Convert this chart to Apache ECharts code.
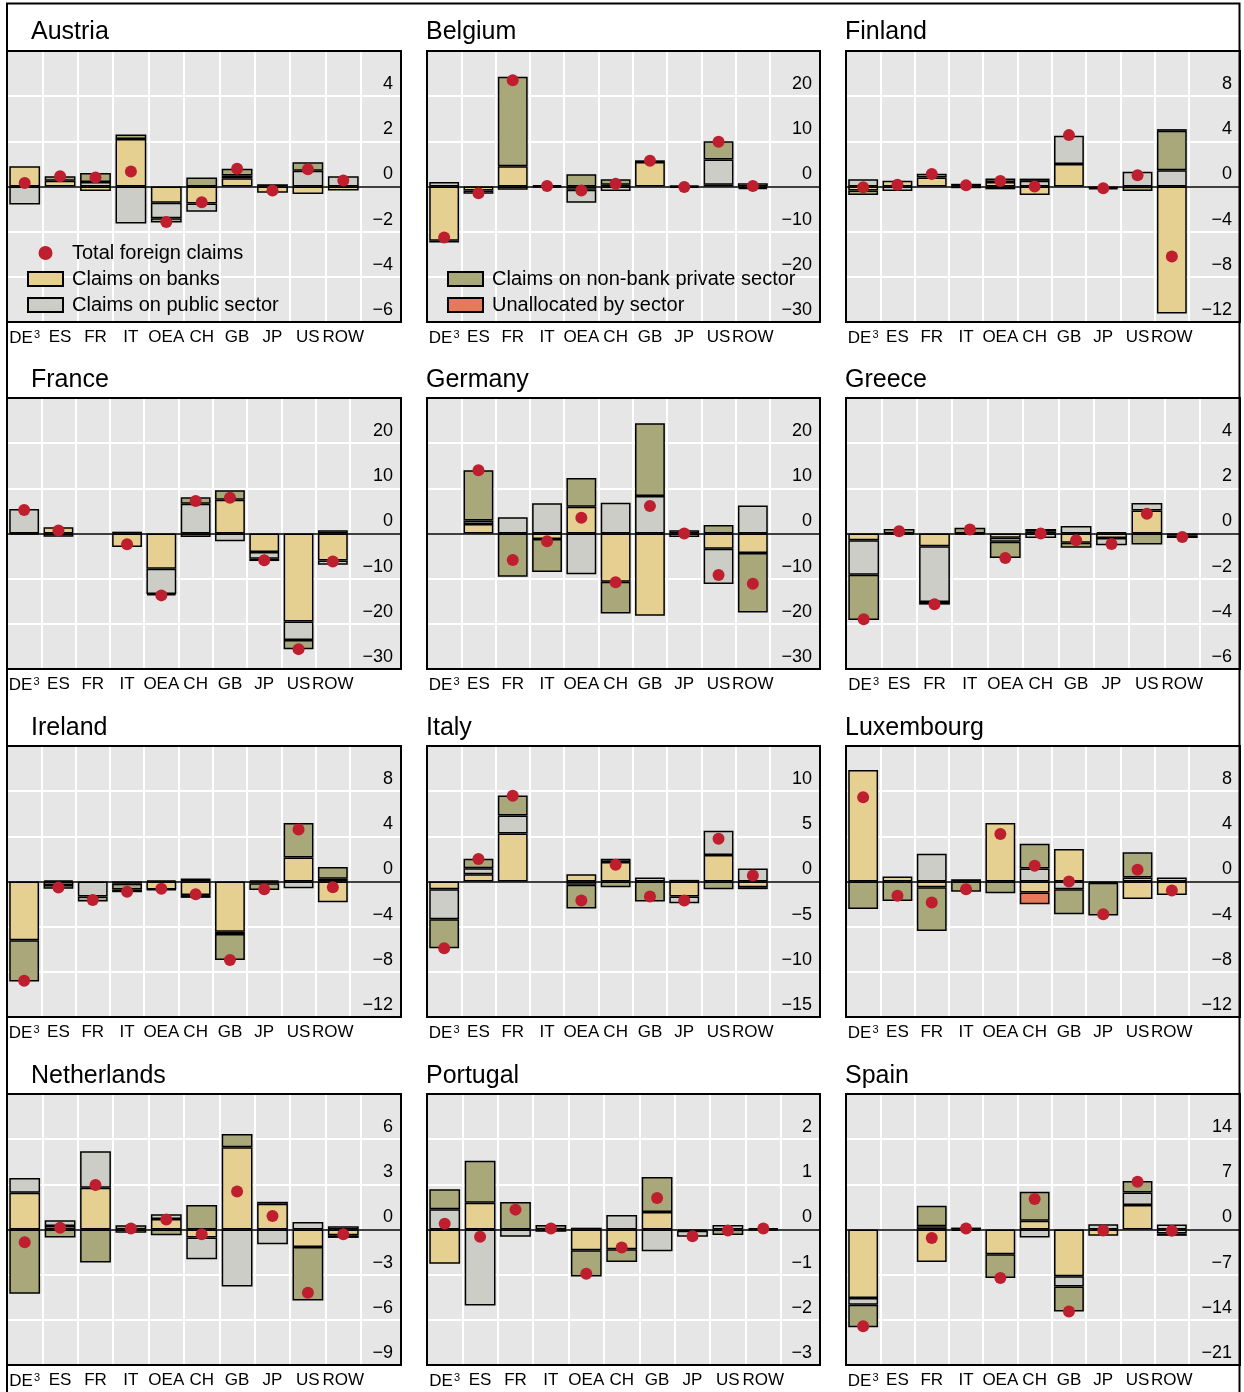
<!DOCTYPE html>
<html><head><meta charset="utf-8">
<script src="https://cdn.jsdelivr.net/npm/echarts@6/dist/echarts.min.js"></script>
<style>html,body{margin:0;padding:0;background:#fff}#c{width:1244px;height:1392px}</style>
</head><body><div id="c"></div>
<script>
const countries = ['Austria','Belgium','Finland','France','Germany','Greece','Ireland','Italy','Luxembourg','Netherlands','Portugal','Spain'];
const categories = ['DE³','ES','FR','IT','OEA','CH','GB','JP','US','ROW'];
const seriesNames = ['Claims on banks','Claims on public sector','Claims on non-bank private sector','Unallocated by sector','Total foreign claims'];

// rows: one per country, columns follow categories
const banks = [
  [0.9, 0.25, -0.2, 2.1, -0.72, -0.75, 0.37, -0.28, -0.33, -0.18],
  [-12.0, -0.9, 4.5, -0.2, -0.7, 0.4, 5.4, -0.3, 0.4, 0.7],
  [-0.35, 0.5, 0.8, -0.15, 0.4, -0.75, 2.0, -0.15, 0, -11.25],
  [0, 1.4, 0, -3.0, -7.8, 0, 7.5, -4.1, -19.5, -6.0],
  [0, 2.1, 0, -1.2, 5.9, -10.7, -18.2, 0, -3.4, -4.3],
  [-0.3, 0, -0.56, -0.05, -0.19, 0.1, -0.41, -0.2, 1.02, -0.1],
  [-5.2, -0.3, 0, -0.2, -0.7, -1.2, -4.45, -0.15, 2.13, -1.84],
  [-0.85, 0.81, 5.3, 0, 0.81, 2.15, 0, -1.67, 2.93, -0.63],
  [9.87, 0.44, -0.5, 0, 5.19, -0.98, 2.87, 0, -1.54, -1.19],
  [2.44, 0.24, 2.78, -0.22, 0.69, -0.53, 5.47, 1.71, -1.16, -0.38],
  [-0.76, 0.59, 0, 0, -0.46, -0.44, 0.39, -0.03, 0, -0.02],
  [-10.63, 0, -5.03, -0.2, -3.84, 1.35, -7.26, -0.98, 3.78, -0.62]
];
const publicSector = [
  [-0.8, 0, 0.2, -1.64, -0.69, -0.37, 0.12, 0, 0.7, 0.45],
  [1.0, -0.7, -0.7, 0, -2.9, -1.0, 0, 0, 5.6, 0],
  [0.65, -0.4, 0, 0, -0.25, 0.5, 2.5, -0.1, 1.3, 1.43],
  [5.4, 0, 0, 0, -5.6, 6.6, -1.7, -1.5, -4.1, -0.9],
  [0, 0.8, 3.6, 6.7, -9.0, 6.8, 8.3, -0.8, -7.8, 6.2],
  [-1.53, -0.05, -2.47, 0, -0.18, -0.2, 0.33, -0.32, 0.33, 0],
  [0, 0.1, -1.33, 0, 0.1, 0, -0.2, 0.1, -0.6, 0.24],
  [-3.33, 0.67, 2.0, 0, -0.37, 0.37, 0.44, -0.74, 2.7, 1.44],
  [0, 0, 2.46, 0.2, 0, 1.16, -0.68, -0.12, 0.36, 0.36],
  [0.98, 0.38, 2.42, 0, 0.33, -1.44, -3.78, -0.98, 0.49, 0.22],
  [0.45, -1.68, -0.16, -0.05, 0.04, 0.32, -0.48, -0.13, 0.1, 0],
  [-1.04, 0, 0.52, 0, 0, -1.24, -1.56, 0.83, 1.97, 0.78]
];
const nonBankPrivate = [
  [0, 0.2, 0.4, 0.2, -0.18, 0.4, 0.3, 0.1, 0.37, 0],
  [-0.4, 0, 19.8, 0.3, 2.7, 1.2, 0.4, 0.2, 4.0, -0.3],
  [-0.4, 0, 0.33, 0.24, 0.3, 0.2, 0, 0, -0.4, 3.5],
  [-0.2, -0.7, 0, 0.4, -0.3, 1.4, 2.1, -0.5, -2.0, 0.7],
  [0, 11.1, -9.6, -7.3, 6.4, -7.0, 16.1, 0.7, 1.9, -13.2],
  [-2.0, 0.2, -0.12, 0.25, -0.71, 0.1, -0.22, 0.06, -0.49, -0.1],
  [-3.65, -0.35, -0.45, -0.5, -0.05, -0.25, -2.3, -0.6, 3.05, 1.04],
  [-3.22, 1.04, 2.22, 0, -2.63, -0.63, -2.22, 0.18, -0.85, -0.22],
  [-2.43, -1.72, -3.88, -0.9, -1.04, 2.19, -2.22, -2.9, 2.22, 0],
  [-4.27, -0.53, -2.2, 0.29, -0.38, 1.62, 0.87, 0.13, -3.56, -0.18],
  [0.44, 0.93, 0.61, 0.1, -0.58, -0.28, 0.77, 0, -0.12, 0.03],
  [-3.47, 0, 3.16, 0.3, -3.68, 4.51, -3.89, 0, 1.76, -0.36]
];
const unallocated = [
  [0, 0, 0, 0, 0, 0, 0, 0, 0, 0],
  [0, 0, 0, 0, 0, 0, 0, 0, 0, -0.3],
  [0, 0, 0, 0, 0, 0, 0, 0, 0, 0.15],
  [0, 0, 0, 0, 0, -0.8, 0, 0, 0, 0],
  [0, 0, 0, 0, 0, 0, 0, 0, 0, 0],
  [0, 0, 0, 0, 0, 0, 0, 0, 0, 0],
  [0, 0, 0, -0.25, 0, 0.27, 0, 0, 0, 0],
  [0, 0, 0, 0, 0, 0, 0, 0, 0, 0],
  [0, 0, 0, 0, 0, -1.04, 0, 0, 0, 0],
  [0, 0, 0, 0, 0, 0, 0, 0, 0, 0],
  [0, 0, 0, 0, 0, 0, 0, 0, 0, 0],
  [0, 0, 0, 0, 0, 0, 0, 0, 0, 0]
];
const totalClaims = [
  [0.15, 0.45, 0.4, 0.66, -1.57, -0.7, 0.79, -0.18, 0.76, 0.27],
  [-11.3, -1.5, 23.5, 0.1, -0.9, 0.6, 5.7, -0.1, 9.9, 0.1],
  [-0.06, 0.15, 1.1, 0.1, 0.48, 0, 4.55, -0.15, 1.0, -6.2],
  [5.2, 0.67, null, -2.4, -13.7, 7.2, 7.9, -5.9, -25.6, -6.2],
  [null, 14.0, -5.85, -1.7, 3.5, -10.8, 6.1, 0, -9.2, -11.1],
  [-3.8, 0.1, -3.13, 0.18, -1.08, 0, -0.3, -0.46, 0.87, -0.16],
  [-8.8, -0.53, -1.63, -0.9, -0.65, -1.13, -6.96, -0.68, 4.6, -0.5],
  [-7.4, 2.48, 9.5, null, -2.1, 1.85, -1.67, -2.1, 4.74, 0.67],
  [7.47, -1.27, -1.87, -0.68, 4.2, 1.39, 0, -2.9, 1.04, -0.8],
  [-0.84, 0.11, 2.96, 0.07, 0.67, -0.31, 2.53, 0.89, -4.2, -0.31],
  [0.13, -0.16, 0.44, 0.02, -0.98, -0.4, 0.7, -0.15, -0.02, 0.02],
  [-15.0, null, -1.3, 0.16, -7.5, 4.72, -12.7, -0.16, 7.41, -0.2]
];
const tickMax = [6, 30, 12, 30, 30, 6, 12, 15, 12, 9, 3, 21];
const tickStep = [2, 10, 4, 10, 10, 2, 4, 5, 4, 3, 1, 7];

const FONT = '"Liberation Sans", Arial, Helvetica, sans-serif';
const colLeft = [7, 427, 846];
const colWidth = [394, 393, 394];
const rowTop = [51, 398, 746, 1094];
const plotH = 271;
const titleX = [31, 426, 845];
const titleY = [32, 380, 728, 1076];
const colors = ['#E5D092', '#CDCDC7', '#A8A87B', '#E8785A'];
const dotColor = '#BE1E2D';

const grids = [], xAxes = [], yAxes = [], series = [], graphics = [];
const fmt = v => v < 0 ? '\u2212' + Math.abs(v) : String(v);
const clean = arr => arr.map(v => (v === 0 ? '-' : v));

countries.forEach((name, i) => {
  const r = Math.floor(i / 3), c = i % 3;
  const L = colLeft[c], T = rowTop[r], W = colWidth[c];
  const longLabels = String(-tickMax[i]).length > 2;
  const colW = longLabels ? 34.3 : 35.4;
  const gB = 2 * i, gA = 2 * i + 1;
  grids.push({left: L, top: T, width: W, height: plotH, show: true, backgroundColor: '#E6E6E6', borderWidth: 0});
  grids.push({left: L, top: T, width: colW * 10, height: plotH});
  xAxes.push({gridIndex: gB, type: 'value', min: 0, max: 1, z: 3,
    axisLine: {show: true, onZero: true, lineStyle: {color: '#000', width: 1.5}},
    axisTick: {show: false}, axisLabel: {show: false}, splitLine: {show: false}});
  yAxes.push({gridIndex: gB, type: 'value', min: -tickMax[i], max: tickMax[i], interval: tickStep[i], position: 'right',
    axisLine: {show: false}, axisTick: {show: false},
    splitLine: {show: true, lineStyle: {color: '#fff', width: 2}},
    axisLabel: {inside: true, margin: 8, fontSize: 18, color: '#000', fontFamily: FONT, verticalAlign: 'bottom', lineHeight: 24, showMaxLabel: false, formatter: fmt}});
  xAxes.push({gridIndex: gA, type: 'category', data: categories, boundaryGap: true,
    axisLine: {show: false, onZero: false}, axisTick: {show: false},
    splitLine: {show: true, interval: 0, showMinLine: false, lineStyle: {color: '#fff', width: 2}},
    axisLabel: {interval: 0, margin: 7, fontSize: 17, color: '#000', fontFamily: FONT,
      formatter: v => v === 'DE³' ? '{b|DE}{s|3}' : v,
      rich: {b: {fontSize: 17, fontFamily: FONT, color: '#000'}, s: {fontSize: 11, fontFamily: FONT, color: '#000', verticalAlign: 'top', padding: [0, 0, 7, 1]}}}});
  yAxes.push({gridIndex: gA, type: 'value', min: -tickMax[i], max: tickMax[i], interval: tickStep[i], show: false});
  const comps = [banks[i], publicSector[i], nonBankPrivate[i], unallocated[i]];
  comps.forEach((arr, k) => {
    series.push({type: 'bar', name: seriesNames[k], xAxisIndex: gA, yAxisIndex: gA, stack: 'S' + i,
      barWidth: '87%', data: clean(arr), z: 2,
      itemStyle: {color: colors[k], borderColor: '#000', borderWidth: 1.5}});
  });
  series.push({type: 'scatter', name: seriesNames[4], xAxisIndex: gA, yAxisIndex: gA, symbolSize: 12, z: 5,
    data: totalClaims[i].map(v => v === null ? '-' : v), itemStyle: {color: dotColor, opacity: 1}});
  graphics.push({type: 'text', x: titleX[c], y: titleY[r], silent: true,
    style: {text: name, fontSize: 25, fontFamily: FONT, fill: '#000', align: 'left', verticalAlign: 'middle'}});
  graphics.push({type: 'rect', z: 100, silent: true, shape: {x: L, y: T, width: W, height: plotH},
    style: {fill: 'none', stroke: '#000', lineWidth: 2}});
});
graphics.push({type: 'polyline', z: 100, silent: true, shape: {points: [[7, 1400], [7, 3.5], [1239.5, 3.5], [1239.5, 1400]]},
  style: {fill: 'none', stroke: '#000', lineWidth: 2}});

const legendText = {fontSize: 20, color: '#000', fontFamily: FONT, padding: [0, 0, 0, 4]};
const chart = echarts.init(document.getElementById('c'), null, {renderer: 'canvas'});
chart.setOption({
  animation: false,
  backgroundColor: '#fff',
  grid: grids, xAxis: xAxes, yAxis: yAxes, series: series, graphic: graphics,
  legend: [
    {data: [{name: seriesNames[4], icon: 'circle'}, {name: seriesNames[0], icon: 'rect'}, {name: seriesNames[1], icon: 'rect'}],
     left: 27, top: 243, padding: 0, orient: 'vertical', itemWidth: 35, itemHeight: 14, itemGap: 6, selectedMode: false, textStyle: legendText},
    {data: [{name: seriesNames[2], icon: 'rect'}, {name: seriesNames[3], icon: 'rect'}],
     left: 447, top: 269, padding: 0, orient: 'vertical', itemWidth: 35, itemHeight: 14, itemGap: 6, selectedMode: false, textStyle: legendText}
  ]
});
</script></body></html>
